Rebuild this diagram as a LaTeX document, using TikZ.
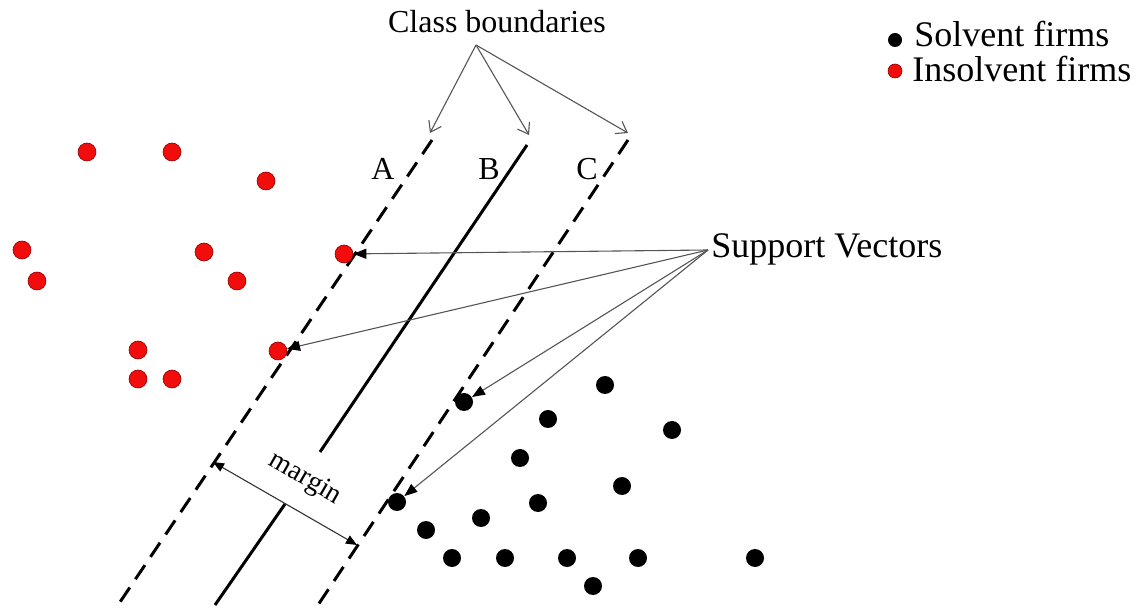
\documentclass[tikz,border=0pt]{standalone}
\usepackage{fontspec}
\setmainfont{Liberation Serif}
\usetikzlibrary{arrows.meta}
\definecolor{insred}{HTML}{F20D0D}
\definecolor{ptrgray}{HTML}{555555}
\newcommand{\bigtxt}{\fontsize{18}{21}\selectfont}
\newcommand{\midtxt}{\fontsize{16}{19}\selectfont}

\begin{document}
\begin{tikzpicture}[x=0.5pt,y=-0.5pt,
  solvent/.style={circle,fill=black,inner sep=0pt,minimum size=9pt},
  insolvent/.style={circle,fill=insred,draw=red!55!black,line width=0.3pt,inner sep=0pt,minimum size=9pt},
  boundary/.style={line width=1.5pt},
  dashbound/.style={boundary,dash pattern=on 8.5pt off 5pt},
  svarrow/.style={ptrgray,line width=0.55pt,-{Triangle[length=6.5pt,width=5pt,color=black]}},
  cbarrow/.style={ptrgray,line width=0.55pt,-{Straight Barb[length=5pt,width=7pt]}}]
  \useasboundingbox (0,0) rectangle (1143,613);
  % the three class boundaries
  \coordinate (Atop) at (432,140); \coordinate (Abot) at (118,605);
  \coordinate (Btop) at (527,145); \coordinate (Bbot) at (215,605);
  \coordinate (Bcut1) at (320,452); \coordinate (Bcut2) at (285,504);
  \coordinate (Ctop) at (628,140); \coordinate (Cbot) at (318,605);
  \draw[dashbound] (Atop) -- (Abot);
  \draw[boundary] (Btop) -- (Bcut1);
  \draw[boundary] (Bcut2) -- (Bbot);
  \draw[dashbound] (Ctop) -- (Cbot);
  \node[font=\midtxt,anchor=base] (lA) at (383,180) {A};
  \node[font=\midtxt,anchor=base] (lB) at (489,180) {B};
  \node[font=\midtxt,anchor=base] (lC) at (587,180) {C};
  % insolvent firms
  \foreach \x/\y [count=\i] in {87/152,172/152,266/181,22/250,204/252,37/281,237/281,138/350,138/379,172/379}
    \node[insolvent] (r\i) at (\x,\y) {};
  \node[insolvent] (svr1) at (344,254) {};
  \node[insolvent] (svr2) at (278,351) {};
  % solvent firms
  \foreach \x/\y [count=\i] in {605/385,548/419,672/430,520/458,622/486,538/503,481/518,426/530,452/558,505/558,567/558,638/558,755/558,593/586}
    \node[solvent] (s\i) at (\x,\y) {};
  \node[solvent] (svs1) at (464,402) {};
  \node[solvent] (svs2) at (397,502) {};
  % labels and pointers
  \node[font=\midtxt,anchor=base] (cb) at (497,33) {Class boundaries};
  \coordinate (cbfoot) at (476,45);
  \coordinate (tipA) at (430,133);
  \coordinate (tipB) at (529,135);
  \coordinate (tipC) at (628,133);
  \draw[cbarrow] (cbfoot) -- (tipA);
  \draw[cbarrow] (cbfoot) -- (tipB);
  \draw[cbarrow] (cbfoot) -- (tipC);
  \node[font=\bigtxt,anchor=west,inner sep=0pt] (sv) at (711,249) {Support Vectors};
  \coordinate (svfoot) at (708,250);
  \draw[svarrow] (svfoot) -- (svr1);
  \draw[svarrow] (svfoot) -- (svr2);
  \draw[svarrow] (svfoot) -- (svs1);
  \draw[svarrow] (svfoot) -- (svs2);
  % margin
  \coordinate (mA) at (213,462);
  \coordinate (mC) at (357,545);
  \draw[black!80,line width=0.55pt,{Triangle[length=5.5pt,width=4.5pt,color=black]}-{Triangle[length=5.5pt,width=4.5pt,color=black]}] (mA) -- (mC);
  \node[font=\fontsize{14}{16}\selectfont,rotate=-30,inner sep=0pt] (mg) at (305,479) {margin};
  % legend
  \node[solvent,minimum size=7pt] (ks) at (895,40) {};
  \node[insolvent,minimum size=7pt] (ki) at (895,71) {};
  \node[font=\bigtxt,anchor=base west,inner sep=0pt] (kst) at (914,47) {Solvent firms};
  \node[font=\bigtxt,anchor=base west,inner sep=0pt] (kit) at (912,82) {Insolvent firms};
\end{tikzpicture}
\end{document}
